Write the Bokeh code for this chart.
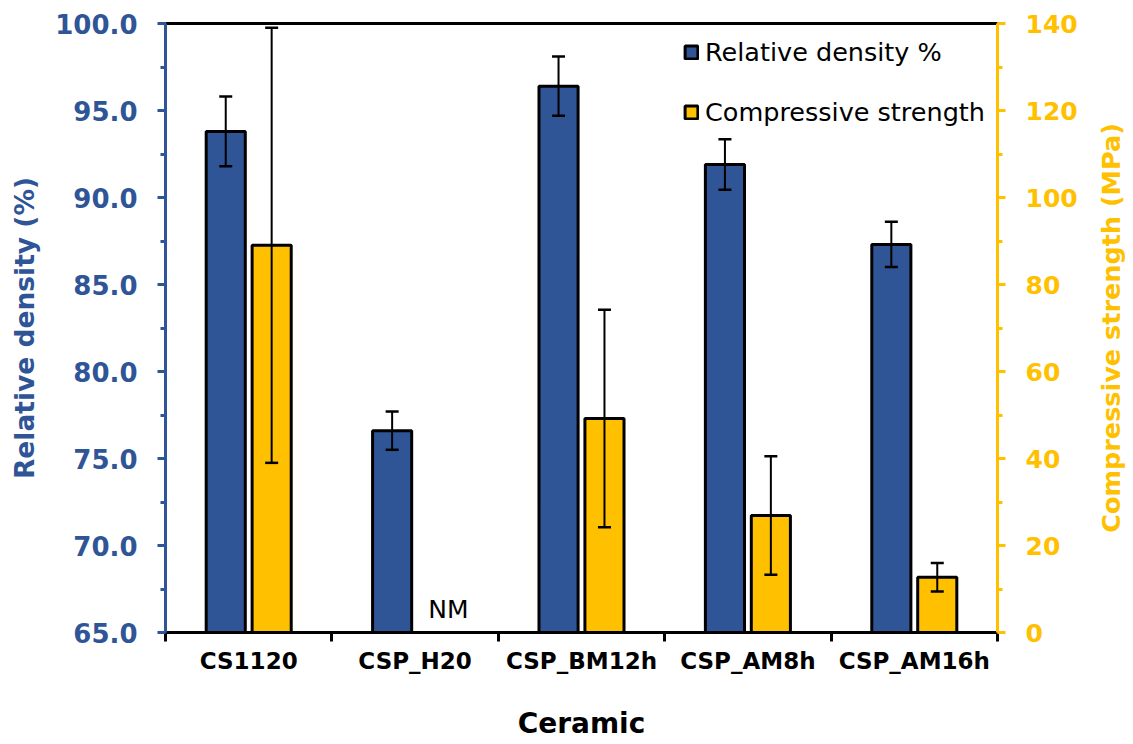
import math
import numpy as np
from bokeh.plotting import figure
from bokeh.layouts import row
from bokeh.models import (ColumnDataSource, Range1d, LinearAxis, FixedTicker, Whisker,
                          Legend, LegendItem, PrintfTickFormatter, TeeHead)
from bokeh.transform import dodge
from bokeh.core.properties import value
from bokeh.embed import file_html
from bokeh.resources import INLINE

# ---- data ----
categories = ["CS1120", "CSP_H20", "CSP_BM12h", "CSP_AM8h", "CSP_AM16h"]
density = [93.8, 76.6, 96.4, 91.9, 87.3]
density_err = [2.0, 1.1, 1.7, 1.45, 1.3]
strength = [89.0, float("nan"), 49.2, 26.9, 12.7]
strength_err = [50.0, float("nan"), 25.0, 13.6, 3.25]
density_ticks = [65, 70, 75, 80, 85, 90, 95, 100]
strength_ticks = [0, 20, 40, 60, 80, 100, 120, 140]

BLUE = "#2F5597"
GOLD = "#FFC000"

xc = list(np.arange(len(categories)) + 0.5)
src = ColumnDataSource(dict(
    x=xc,
    density=density,
    dlo=[d - e for d, e in zip(density, density_err)],
    dhi=[d + e for d, e in zip(density, density_err)],
    strength=strength,
    slo=[s - e for s, e in zip(strength, strength_err)],
    shi=[s + e for s, e in zip(strength, strength_err)],
))
missing = [math.isnan(s) for s in strength]
nm_src = ColumnDataSource(dict(x=[x for x, m in zip(xc, missing) if m],
                               y=[strength_ticks[0]] * sum(missing),
                               t=["NM"] * sum(missing)))

p = figure(frame_width=832, frame_height=609, output_backend="svg", toolbar_location=None,
           x_range=Range1d(0, len(categories)),
           y_range=Range1d(density_ticks[0], density_ticks[-1]),
           x_axis_location=None, y_axis_location=None,
           min_border_left=165, min_border_right=96, min_border_top=23, min_border_bottom=100)
p.extra_y_ranges = {"right": Range1d(strength_ticks[0], strength_ticks[-1])}
p.outline_line_color = None
for g in p.grid:
    g.visible = False

OFF = 0.138
W = 0.235

r1 = p.vbar(x=dodge("x", -OFF, range=p.x_range), top="density", bottom=density_ticks[0],
            width=W, fill_color=BLUE, line_color="black", line_width=3, source=src)
r2 = p.vbar(x=dodge("x", OFF, range=p.x_range), top="strength", bottom=strength_ticks[0],
            width=W, fill_color=GOLD, line_color="black", line_width=3, source=src,
            y_range_name="right")

def head():
    return TeeHead(size=13, line_width=2.5, line_color="black")

w1 = Whisker(source=src, base=dodge("x", -OFF, range=p.x_range), upper="dhi", lower="dlo",
             line_color="black", line_width=2, upper_head=head(), lower_head=head(), level="overlay")
w2 = Whisker(source=src, base=dodge("x", OFF, range=p.x_range), upper="shi", lower="slo",
             line_color="black", line_width=2, upper_head=head(), lower_head=head(),
             y_range_name="right", level="overlay")
p.add_layout(w1)
p.add_layout(w2)

p.text(x=dodge("x", 0.2, range=p.x_range), y="y", text="t", source=nm_src, y_range_name="right",
       text_align="center", text_baseline="alphabetic", y_offset=-23,
       text_font=value("DejaVu Sans"), text_font_size="25px", text_color="black")

# left axis
yl = LinearAxis(ticker=FixedTicker(ticks=density_ticks,
                                   minor_ticks=[t + 2.5 for t in density_ticks[:-1]]),
                formatter=PrintfTickFormatter(format="%.1f"),
                axis_label="Relative density (%)")
yl.axis_line_color = BLUE
yl.axis_line_width = 3
yl.major_tick_line_color = BLUE
yl.minor_tick_line_color = BLUE
yl.major_tick_line_width = 3
yl.minor_tick_line_width = 3
yl.major_tick_out = 8
yl.major_tick_in = 0
yl.minor_tick_out = 5
yl.minor_tick_in = 0
yl.major_label_standoff = 20
yl.major_label_text_font = "DejaVu Sans"
yl.major_label_text_font_style = "bold"
yl.major_label_text_font_size = "26px"
yl.major_label_text_color = BLUE
yl.axis_label_text_font = "DejaVu Sans"
yl.axis_label_text_font_style = "bold"
yl.axis_label_text_font_size = "26.5px"
yl.axis_label_text_color = BLUE
yl.axis_label_standoff = 12
p.add_layout(yl, "left")

# right axis
yr = LinearAxis(y_range_name="right",
                ticker=FixedTicker(ticks=strength_ticks,
                                   minor_ticks=[t + 10 for t in strength_ticks[:-1]]))
yr.axis_line_color = GOLD
yr.axis_line_width = 3
yr.major_tick_line_color = GOLD
yr.minor_tick_line_color = GOLD
yr.major_tick_line_width = 3
yr.minor_tick_line_width = 3
yr.major_tick_out = 8
yr.major_tick_in = 0
yr.minor_tick_out = 5
yr.minor_tick_in = 0
yr.major_label_standoff = 20
yr.major_label_text_font = "DejaVu Sans"
yr.major_label_text_font_style = "bold"
yr.major_label_text_font_size = "25px"
yr.major_label_text_color = GOLD
p.add_layout(yr, "right")

# bottom axis: labels at centers, boundary ticks as minor ticks
xa = LinearAxis(ticker=FixedTicker(ticks=xc, minor_ticks=list(range(len(categories) + 1))),
                major_label_overrides={x: c for x, c in zip(xc, categories)},
                axis_label="Ceramic")
xa.axis_line_color = "black"
xa.axis_line_width = 3
xa.major_tick_line_color = None
xa.major_tick_out = 8
xa.major_tick_in = 0
xa.minor_tick_line_color = "black"
xa.minor_tick_line_width = 3
xa.minor_tick_out = 9
xa.minor_tick_in = 0
xa.major_label_standoff = 6
xa.major_label_text_font = "DejaVu Sans"
xa.major_label_text_font_style = "bold"
xa.major_label_text_font_size = "23px"
xa.major_label_text_color = "black"
xa.axis_label_text_font = "DejaVu Sans"
xa.axis_label_text_font_style = "bold"
xa.axis_label_text_font_size = "28px"
xa.axis_label_text_color = "black"
xa.axis_label_standoff = 30
p.add_layout(xa, "below")

# top border line
xt = LinearAxis(ticker=FixedTicker(ticks=[]))
xt.axis_line_color = "black"
xt.axis_line_width = 3
xt.major_tick_line_color = None
xt.minor_tick_line_color = None
xt.major_tick_out = 0
xt.major_label_standoff = 0
xt.major_label_text_font_size = "0px"
p.add_layout(xt, "above")

legend = Legend(items=[LegendItem(label="Relative density %", renderers=[r1]),
                       LegendItem(label="Compressive strength", renderers=[r2])],
                location=(518, 505), padding=0, margin=0, spacing=30,
                glyph_width=16, glyph_height=16, label_standoff=6, label_height=30,
                label_text_font="DejaVu Sans", label_text_font_size="25.5px",
                label_text_color="black",
                border_line_color=None, background_fill_alpha=0)
p.add_layout(legend)

# right axis title (reads bottom-to-top), in a narrow companion panel
p2 = figure(frame_width=34, frame_height=609, output_backend="svg", toolbar_location=None,
            x_range=Range1d(0, 1), y_range=Range1d(strength_ticks[0], strength_ticks[-1]),
            x_axis_location=None, y_axis_location=None,
            min_border_left=0, min_border_right=0, min_border_top=23, min_border_bottom=0)
p2.outline_line_color = None
for g in p2.grid:
    g.visible = False
p2.text(x=[0.5], y=[(strength_ticks[0] + strength_ticks[-1]) / 2],
        text=["Compressive strength (MPa)"], angle=90, angle_units="deg",
        text_align="center", text_baseline="middle",
        text_font=value("DejaVu Sans"), text_font_style="bold",
        text_font_size="25.5px", text_color=GOLD)

layout = row(p, p2, spacing=0)
open("out.html", "w").write(file_html(layout, INLINE))
